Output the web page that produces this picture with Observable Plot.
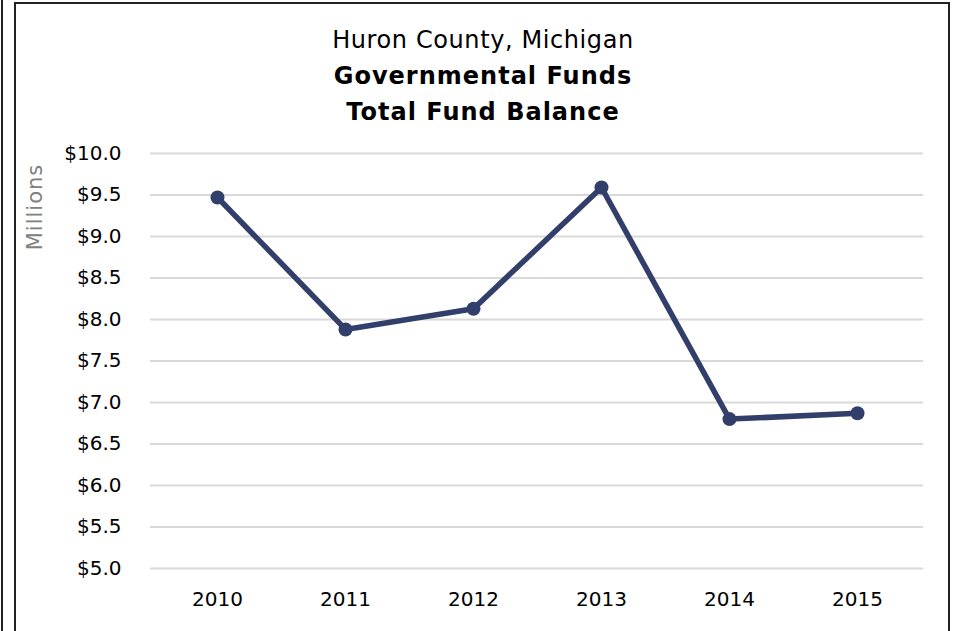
<!DOCTYPE html>
<html>
<head>
<meta charset="utf-8">
<script src="https://cdn.jsdelivr.net/npm/d3@7"></script>
<script src="https://cdn.jsdelivr.net/npm/@observablehq/plot@0.6"></script>
<style>
  html, body { margin: 0; padding: 0; background: #fff; width: 956px; height: 631px; overflow: hidden; }
  #outerline { position: absolute; left: 1px; top: 0; width: 2px; height: 631px; background: #222; }
  #frame { position: absolute; left: 14px; top: 2px; width: 932px; height: 700px; border: 2px solid #222; }
  #chart { position: absolute; left: 0; top: 0; width: 956px; }
  #title { height: 140px; box-sizing: border-box; padding-top: 22px; padding-left: 10px; text-align: center; font-family: "DejaVu Sans", sans-serif; color: #000; }
  #title div { line-height: 36px; font-size: 24px; }
  #title .t1 { letter-spacing: 0.6px; }
  #title .t2 { font-weight: bold; letter-spacing: 1px; }
  #ylabel { position: absolute; left: 35px; top: 207px; transform: translate(-50%, -50%) rotate(-90deg); font-family: "DejaVu Sans", sans-serif; font-size: 21px; letter-spacing: 1px; color: #808080; white-space: nowrap; }
  svg { display: block; }
</style>
</head>
<body>
<div id="outerline"></div>
<div id="frame"></div>
<div id="chart">
  <div id="title">
    <div class="t1">Huron County, Michigan</div>
    <div class="t2">Governmental Funds</div>
    <div class="t2">Total Fund Balance</div>
  </div>
</div>
<div id="ylabel">Millions</div>
<script>
const years = ["2010", "2011", "2012", "2013", "2014", "2015"];
const balances = [9.47, 7.88, 8.13, 9.59, 6.80, 6.87];
const yTicks = [5, 5.5, 6, 6.5, 7, 7.5, 8, 8.5, 9, 9.5, 10];

const data = years.map((year, i) => ({year, value: balances[i]}));
const navy = "#323F6B";

const chart = Plot.plot({
  width: 956,
  height: 491,
  marginLeft: 150,
  marginRight: 33,
  marginTop: 13,
  marginBottom: 63,
  style: {fontFamily: "DejaVu Sans, sans-serif", fontSize: "20px", color: "#000", background: "transparent"},
  x: {type: "point", domain: years, padding: 0.5, tickSize: 0, tickPadding: 23, label: null},
  y: {domain: [5, 10], ticks: yTicks, tickFormat: d => "$" + d.toFixed(1), tickSize: 0, tickPadding: 29, label: null},
  marks: [
    Plot.ruleY(yTicks, {stroke: "#d9d9d9", strokeWidth: 2}),
    Plot.line(data, {x: "year", y: "value", stroke: navy, strokeWidth: 5.5, strokeLinejoin: "round"}),
    Plot.dot(data, {x: "year", y: "value", r: 7, fill: navy, stroke: "none"})
  ]
});
document.getElementById("chart").appendChild(chart);
</script>
</body>
</html>
